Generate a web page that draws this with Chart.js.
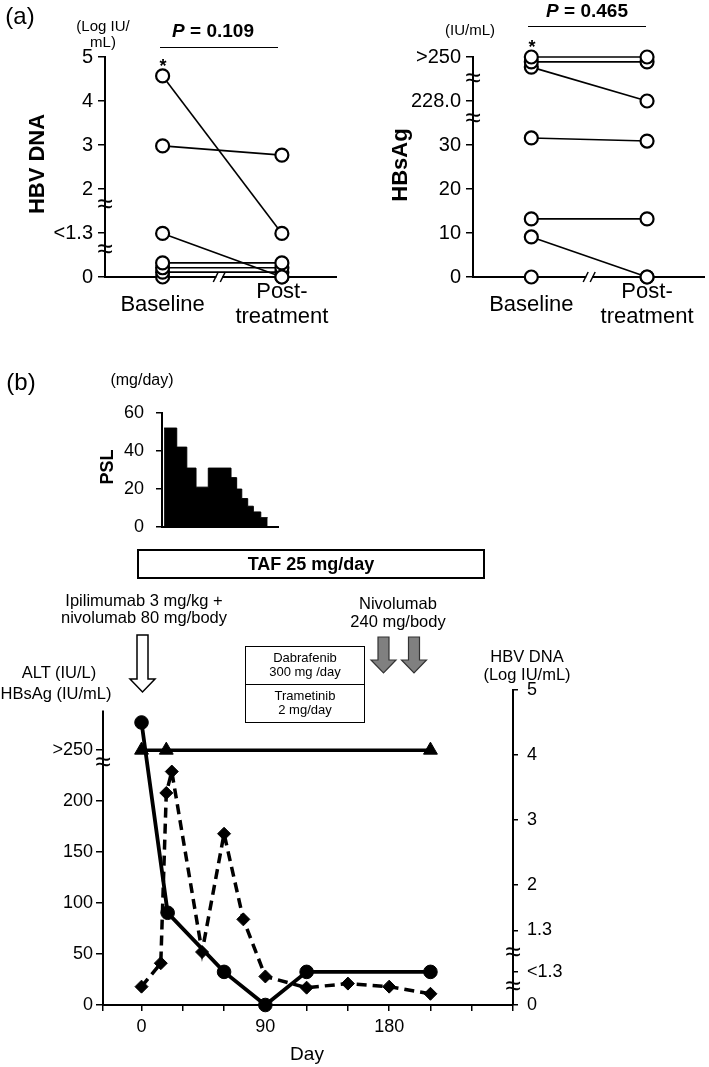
<!DOCTYPE html>
<html>
<head>
<meta charset="utf-8">
<script src="https://cdn.jsdelivr.net/npm/chart.js@4.4.1/dist/chart.umd.min.js"></script>
<style>
html, body { margin: 0; padding: 0; background: #fff; }
#fig { position: relative; width: 709px; height: 1067px; overflow: hidden;
       font-family: "Liberation Sans", Arial, Helvetica, sans-serif; color: #000; }
canvas { position: absolute; }
svg { position: absolute; left: 0; top: 0; }
.t { position: absolute; transform: translate(-50%, -50%); white-space: nowrap; line-height: 1; }
.v { transform: translate(-50%, -50%) rotate(-90deg); font-weight: bold; }
.b { font-weight: bold; }
.hl { position: absolute; height: 0; border-top: 1.5px solid #000; }
.box { position: absolute; border: 1.5px solid #000; box-sizing: border-box; }
</style>
</head>
<body>
<div id="fig">
  <canvas id="dnaPair"  width="345" height="335" style="left:0;top:0"></canvas>
  <canvas id="sagPair"  width="364" height="335" style="left:345px;top:0"></canvas>
  <canvas id="psl"      width="190" height="160" style="left:100px;top:390px"></canvas>
  <canvas id="course"   width="709" height="427" style="left:0;top:640px"></canvas>

  <svg width="709" height="1067">
    <path d="M137,635 L148,635 L148,679 L155,679 L142.5,692 L130,679 L137,679 Z" fill="#fff" stroke="#000" stroke-width="1.5"/>
    <path d="M378,637 L389,637 L389,660 L396,660 L383.5,673 L371,660 L378,660 Z" fill="#808080" stroke="#333" stroke-width="1.2"/>
    <path d="M408.5,637 L419.5,637 L419.5,660 L426.5,660 L414,673 L401.5,660 L408.5,660 Z" fill="#808080" stroke="#333" stroke-width="1.2"/>
  </svg>

  <!-- (a) -->
  <div class="t" style="left:20px;top:16px;font-size:24px">(a)</div>
  <div class="t" style="left:103px;top:25px;font-size:15px">(Log IU/</div>
  <div class="t" style="left:103px;top:41px;font-size:15px">mL)</div>
  <div class="t b" style="left:213px;top:30px;font-size:19px"><i>P</i> = 0.109</div>
  <div class="hl" style="left:160px;top:47px;width:118px"></div>
  <div class="t b" style="left:163px;top:66px;font-size:18px">*</div>
  <div class="t v" style="left:37px;top:164px;font-size:22px">HBV DNA</div>

  <div class="t b" style="left:587px;top:10px;font-size:19px"><i>P</i> = 0.465</div>
  <div class="hl" style="left:528px;top:26px;width:118px"></div>
  <div class="t" style="left:470px;top:29px;font-size:15px">(IU/mL)</div>
  <div class="t b" style="left:532px;top:47px;font-size:18px">*</div>
  <div class="t v" style="left:400px;top:165px;font-size:22px">HBsAg</div>

  <!-- (b) -->
  <div class="t" style="left:21px;top:382px;font-size:24px">(b)</div>
  <div class="t" style="left:142px;top:380px;font-size:16px">(mg/day)</div>
  <div class="t v" style="left:107px;top:467px;font-size:18px">PSL</div>
  <div class="box" style="left:137px;top:549px;width:348px;height:30px;border-width:2px"></div>
  <div class="t b" style="left:311px;top:564px;font-size:18px">TAF 25 mg/day</div>

  <div class="t" style="left:144px;top:600px;font-size:16.5px">Ipilimumab 3 mg/kg +</div>
  <div class="t" style="left:144px;top:617px;font-size:16.5px">nivolumab 80 mg/body</div>
  <div class="t" style="left:398px;top:603px;font-size:16.5px">Nivolumab</div>
  <div class="t" style="left:398px;top:621px;font-size:16.5px">240 mg/body</div>

  <div class="box" style="left:245px;top:646px;width:120px;height:77px"></div>
  <div class="hl" style="left:245px;top:684px;width:120px"></div>
  <div class="t" style="left:305px;top:657px;font-size:13px">Dabrafenib</div>
  <div class="t" style="left:305px;top:671px;font-size:13px">300 mg /day</div>
  <div class="t" style="left:305px;top:695px;font-size:13px">Trametinib</div>
  <div class="t" style="left:305px;top:709px;font-size:13px">2 mg/day</div>

  <div class="t" style="left:59px;top:672px;font-size:16.5px">ALT (IU/L)</div>
  <div class="t" style="left:56px;top:693px;font-size:16.5px">HBsAg (IU/mL)</div>
  <div class="t" style="left:527px;top:656px;font-size:16.5px">HBV DNA</div>
  <div class="t" style="left:527px;top:674px;font-size:16.5px">(Log IU/mL)</div>
  <div class="t" style="left:307px;top:1053px;font-size:19px">Day</div>
</div>

<script>
'use strict';

// (a) HBV DNA (Log IU/mL), broken axis: position 1 is "<1.3"
const dnaTickVals   = [0, 1, 2, 3, 4, 5];
const dnaTickLabels = ['0', '<1.3', '2', '3', '4', '5'];
const dnaBaseline   = [4.57, 2.98, 0.99, 0.32, 0.21, 0.11, 0];
const dnaPost       = [0.99, 2.77, 0, 0.32, 0.21, 0.11, 0];

// (a) HBsAg (IU/mL), broken axis: 40 is "228.0", 50 is ">250"
const sagTickVals   = [0, 10, 20, 30, 40, 50];
const sagTickLabels = ['0', '10', '20', '30', '228.0', '>250'];
const sagBaseline   = [50, 48.9, 47.7, 31.6, 13.2, 9.1, 0];
const sagPost       = [50, 48.9, 40, 30.9, 13.2, 0, 0];

const pairLabels = ['Baseline', ['Post-', 'treatment']];

// (b) PSL dose (mg/day), each step starts on the given day
const pslStartDay = [16.7, 25.9, 33.2, 39.9, 48.8, 65.3, 69.4, 73.1, 77.4, 81.5, 86.9];
const pslEndDay   = 91.9;
const pslDose     = [52, 42, 31, 21, 31, 26, 20, 15, 11, 8, 5];

// (b) clinical course
const altDay = [0, 14, 18, 22, 44, 60, 74, 90, 120, 150, 180, 210];
const altVal = [18, 41, 208, 229, 52, 168, 84, 28, 17, 21, 18, 11];
const sagDay = [0, 18, 210];
const sagVal = [250, 250, 250];            // ">250"
const hbvDay = [0, 19, 60, 90, 120, 210];
const hbvVal = [4.5, 1.57, '<1.3', '0', '<1.3', '<1.3'];

const leftTickVals   = [0, 50, 100, 150, 200, 250];
const leftTickLabels = ['0', '50', '100', '150', '200', '>250'];
// right axis is broken below 1.3: '0' and '<1.3' sit on their own rungs
const hbvRung        = { '0': 0.15, '<1.3': 0.66 };
const hbvTickVals    = [0.15, 0.66, 1.3, 2, 3, 4, 5];
const hbvTickLabels  = ['0', '<1.3', '1.3', '2', '3', '4', '5'];
const dayTicks  = [-28, 0, 30, 60, 90, 120, 150, 180, 210, 240, 270];
const dayLabels = [0, 90, 180];

const FONT = '"Liberation Sans", Arial, Helvetica, sans-serif';
Chart.defaults.font.family = FONT;
Chart.defaults.color = '#000';
Chart.defaults.animation = false;
Chart.defaults.responsive = false;
Chart.defaults.maintainAspectRatio = false;
Chart.defaults.plugins.legend.display = false;
Chart.defaults.plugins.tooltip.enabled = false;

const pts = (xs, ys) => xs.map((x, i) => ({ x, y: ys[i] }));

// axis break marks + the short left axis of the course chart
const breaks = {
  id: 'breaks',
  afterDraw(chart, args, opts) {
    const ctx = chart.ctx;
    ctx.save();
    ctx.fillStyle = '#000';
    ctx.strokeStyle = '#000';
    ctx.textAlign = 'center';
    ctx.textBaseline = 'middle';
    ctx.font = '28px ' + FONT;
    (opts.y || []).forEach(b => {
      const sc = chart.scales[b.id];
      const x = sc.position === 'right' ? sc.left : sc.right;
      ctx.fillText('\u2248', x, sc.getPixelForValue(b.v) + 1);
    });
    (opts.x || []).forEach(v => {
      const sc = chart.scales.x;
      const x = sc.getPixelForValue(v), y = sc.top;
      ctx.fillStyle = '#fff';
      ctx.fillRect(x - 3, y - 3, 6, 6);
      ctx.lineWidth = 1.5;
      ctx.beginPath();
      ctx.moveTo(x - 6, y + 5); ctx.lineTo(x - 1, y - 5);
      ctx.moveTo(x + 1, y + 5); ctx.lineTo(x + 6, y - 5);
      ctx.stroke();
    });
    if (opts.axisTo != null) {
      const sc = chart.scales.y;
      ctx.lineWidth = 2;
      ctx.beginPath();
      ctx.moveTo(sc.right, sc.getPixelForValue(0) + 1);
      ctx.lineTo(sc.right, sc.getPixelForValue(opts.axisTo));
      ctx.stroke();
    }
    ctx.restore();
  },
};

const yGrid = { drawOnChartArea: false, tickLength: 7, color: '#000', lineWidth: 1.5 };
const axisLine = { color: '#000', width: 2 };

function pairChart(id, base, post, tickVals, tickLabels, o) {
  const datasets = base.map((b, i) => ({
    data: [{ x: 0, y: b }, { x: 1, y: post[i] }],
    borderColor: '#000', borderWidth: 1.6,
    pointRadius: 6.5, pointBorderWidth: 2.2,
    pointBackgroundColor: '#fff', pointBorderColor: '#000',
    clip: false,
  }));
  return new Chart(document.getElementById(id), {
    type: 'line',
    data: { datasets },
    options: {
      layout: { autoPadding: false, padding: { top: 57, right: o.padR, left: 0, bottom: 0 } },
      scales: {
        x: {
          type: 'linear', min: o.xmin, max: o.xmax,
          afterFit: s => { s.height = 58; },
          afterBuildTicks: s => { s.ticks = [{ value: 0 }, { value: 1 }]; },
          grid: { display: false, drawTicks: false },
          border: axisLine,
          ticks: { font: { size: 22, lineHeight: 1.15 }, padding: 15, autoSkip: false, maxRotation: 0,
                   crossAlign: 'center', callback: (v, i) => pairLabels[i] },
        },
        y: {
          min: 0, max: tickVals[tickVals.length - 1],
          afterFit: s => { s.width = o.yw; },
          afterBuildTicks: s => { s.ticks = tickVals.map(v => ({ value: v })); },
          grid: yGrid, border: axisLine,
          ticks: { font: { size: 20 }, padding: 5, autoSkip: false, callback: (v, i) => tickLabels[i] },
        },
      },
      plugins: { breaks: { y: o.brY, x: o.brX } },
    },
    plugins: [breaks],
  });
}

pairChart('dnaPair', dnaBaseline, dnaPost, dnaTickVals, dnaTickLabels, {
  yw: 105, padR: 7, xmin: -0.483, xmax: 1.458,
  brY: [{ id: 'y', v: 1.66 }, { id: 'y', v: 0.63 }], brX: [0.475],
});
pairChart('sagPair', sagBaseline, sagPost, sagTickVals, sagTickLabels, {
  yw: 128, padR: 2, xmin: -0.504, xmax: 1.496,
  brY: [{ id: 'y', v: 45.2 }, { id: 'y', v: 36.1 }], brX: [0.5],
});

// PSL steps as a filled stepped line on the same day scale as the course chart
const pslPts = pts(pslStartDay, pslDose).concat([{ x: pslEndDay, y: pslDose[pslDose.length - 1] }]);
new Chart(document.getElementById('psl'), {
  type: 'line',
  data: { datasets: [{
    data: pslPts, stepped: true, fill: 'origin',
    borderColor: '#000', backgroundColor: '#000', borderWidth: 1, pointRadius: 0,
  }] },
  options: {
    layout: { autoPadding: false, padding: { top: 11, right: 12, left: 0, bottom: 0 } },
    scales: {
      x: {
        type: 'linear', min: 15.2, max: 99.4,
        afterFit: s => { s.height = 13; },
        grid: { display: false, drawTicks: false }, ticks: { display: false },
        border: axisLine,
      },
      y: {
        min: 0, max: 60,
        afterFit: s => { s.width = 62; },
        ticks: { stepSize: 20, font: { size: 18 }, padding: 12 },
        grid: { drawOnChartArea: false, tickLength: 6, color: '#000', lineWidth: 1.5 },
        border: axisLine,
      },
    },
  },
});

// clinical course
const hbvPts = hbvDay.map((d, i) => ({
  x: d, y: typeof hbvVal[i] === 'string' ? hbvRung[hbvVal[i]] : hbvVal[i],
}));
const solidMark = { borderColor: '#000', pointBackgroundColor: '#000', pointBorderColor: '#000',
                    pointBorderWidth: 1, clip: false };

new Chart(document.getElementById('course'), {
  type: 'line',
  data: { datasets: [
    { ...solidMark, data: pts(sagDay, sagVal), yAxisID: 'y', borderWidth: 3.5,
      pointStyle: 'triangle', pointRadius: 8 },
    { ...solidMark, data: hbvPts, yAxisID: 'yR', borderWidth: 3.8,
      pointStyle: 'circle', pointRadius: 6.8 },
    { ...solidMark, data: pts(altDay, altVal), yAxisID: 'y', borderWidth: 3.5, borderDash: [10, 6],
      pointStyle: 'rectRot', pointRadius: 6.5 },
  ] },
  options: {
    layout: { autoPadding: false, padding: { top: 50, right: 0, left: 0, bottom: 0 } },
    scales: {
      x: {
        type: 'linear', min: -28, max: 270,
        afterFit: s => { s.height = 62; },
        afterBuildTicks: s => { s.ticks = dayTicks.map(v => ({ value: v })); },
        grid: { drawOnChartArea: false, tickLength: 6, color: '#000', lineWidth: 1.5 },
        border: axisLine,
        ticks: { font: { size: 18 }, padding: 5, autoSkip: false, maxRotation: 0,
                 callback: v => dayLabels.includes(v) ? String(v) : '' },
      },
      y: {
        position: 'left', min: 0, max: 309,
        afterFit: s => { s.width = 103; },
        afterBuildTicks: s => { s.ticks = leftTickVals.map(v => ({ value: v })); },
        grid: yGrid, border: { display: false },
        ticks: { font: { size: 18 }, padding: 3, autoSkip: false, callback: (v, i) => leftTickLabels[i] },
      },
      yR: {
        position: 'right', min: 0.15, max: 5,
        afterFit: s => { s.width = 196; },
        afterBuildTicks: s => { s.ticks = hbvTickVals.map(v => ({ value: v })); },
        grid: { drawOnChartArea: false, tickLength: 5, color: '#000', lineWidth: 1.5 },
        border: axisLine,
        ticks: { font: { size: 18 }, padding: 9, autoSkip: false, callback: (v, i) => hbvTickLabels[i] },
      },
    },
    plugins: { breaks: {
      y: [{ id: 'y', v: 238 }, { id: 'yR', v: 0.96 }, { id: 'yR', v: 0.44 }],
      axisTo: 289,
    } },
  },
  plugins: [breaks],
});
</script>
</body>
</html>
